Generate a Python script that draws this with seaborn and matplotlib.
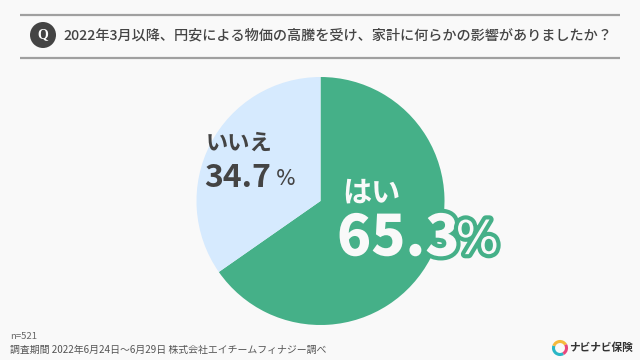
import matplotlib
matplotlib.use("Agg")
import matplotlib.pyplot as plt
import matplotlib.patheffects as pe
from matplotlib.patches import Circle, Arc
import seaborn as sns

sns.set_theme(style="white")
plt.rcParams['font.family'] = ['Noto Sans CJK JP', 'DejaVu Sans']

labels = ["はい", "いいえ"]
values = [65.3, 34.7]
value_texts = ["65.3", "34.7"]
colors = ["#45B088", "#D6EAFE"]
question = "2022年3月以降、円安による物価の高騰を受け、家計に何らかの影響がありましたか？"
note_n = "n=521"
note_period = "調査期間 2022年6月24日〜6月29日 株式会社エイチームフィナジー調べ"
brand = "ナビナビ保険"

BG = "#F9F9F9"
DARK = "#444444"
W, H = 640, 360

fig = plt.figure(figsize=(W / 100, H / 100), dpi=100, facecolor=BG)

# pie
cx, cy, r = 320.5, 201, 124
ax = fig.add_axes([(cx - r) / W, 1 - (cy + r) / H, 2 * r / W, 2 * r / H])
ax.pie(values, colors=colors, startangle=90, counterclock=False, radius=1,
       wedgeprops={"linewidth": 0})
ax.set_xlim(-1, 1)
ax.set_ylim(-1, 1)
ax.set_zorder(1)

ov = fig.add_axes([0, 0, 1, 1])
ov.set_xlim(0, W)
ov.set_ylim(H, 0)
ov.axis("off")
ov.patch.set_alpha(0)
ov.set_zorder(2)

# header
for y in (14.5, 57.5):
    ov.plot([20, 620], [y, y], color="#A0A0A0", lw=1.6, solid_capstyle="butt")
ov.add_patch(Circle((43, 35), 13, color=DARK, lw=0))
ov.text(43, 34.5, "Q", color="white", fontsize=10, fontweight="bold", family="Liberation Serif",
        ha="center", va="center")
ov.text(63, 35, question, color=DARK, fontsize=10.2, fontweight="medium", ha="left", va="center")

# labels
ov.text(206, 143, labels[1], color=DARK, fontsize=16, fontweight="bold", ha="left", va="center")
ov.text(204, 178, value_texts[1], color=DARK, fontsize=23, fontweight="bold",
        family="Noto Sans CJK JP", ha="left", va="center")
ov.text(275.5, 179, "%", color=DARK, fontsize=15, fontweight="normal",
        family="DejaVu Sans", ha="left", va="center")

ov.text(342, 193, labels[0], color=BG, fontsize=21, fontweight="bold", ha="left", va="center")
stroke = [pe.withStroke(linewidth=6, foreground=colors[0])]
ov.text(337, 239, value_texts[0], color=BG, fontsize=40.5, fontweight="black",
        family="Noto Sans CJK JP", ha="left", va="center", path_effects=stroke)
ov.text(455.5, 241, "%", color=BG, fontsize=33, fontweight="normal",
        family="DejaVu Sans", ha="left", va="center", path_effects=stroke)

# notes
ov.text(10, 336.5, note_n, color="#666666", fontsize=6.9, ha="left", va="center")
ov.text(10, 350, note_period, color="#555555", fontsize=7.15, ha="left", va="center")

# brand
ov.add_patch(Arc((560, 348), 13, 13, theta1=60, theta2=200, color="#29B6C6", lw=2.2))
ov.add_patch(Arc((560, 348), 13, 13, theta1=200, theta2=330, color="#F5B93C", lw=2.2))
ov.add_patch(Arc((560, 348), 13, 13, theta1=330, theta2=60, color="#E8467C", lw=2.2))
ov.text(569, 348, brand, color="#333333", fontsize=7.7, fontweight="bold", ha="left", va="center")

fig.savefig("out.png", dpi=100, facecolor=BG)
